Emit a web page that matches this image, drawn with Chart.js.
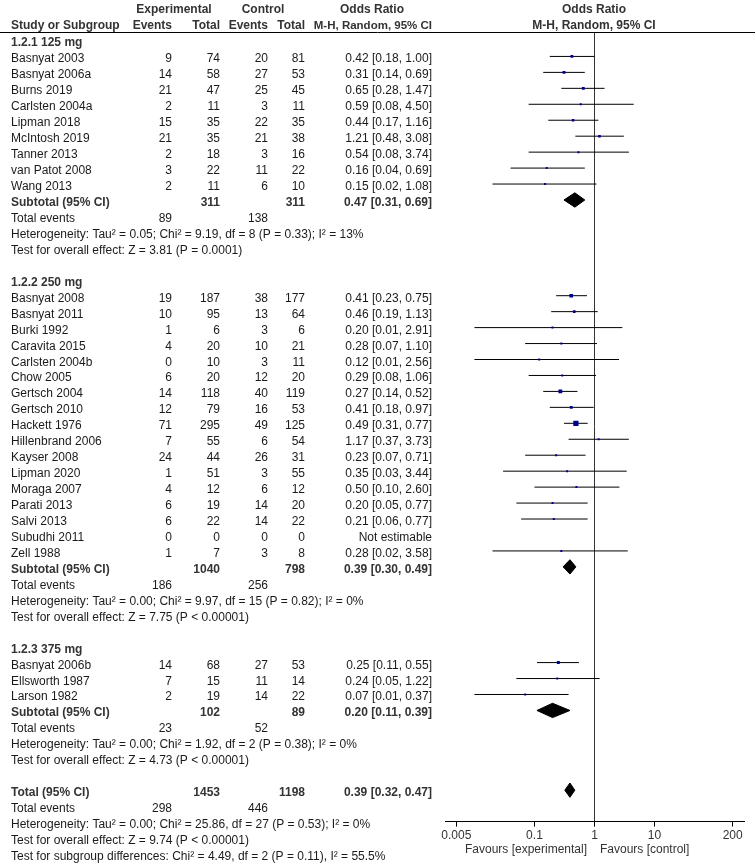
<!DOCTYPE html>
<html>
<head>
<meta charset="utf-8">
<script src="https://cdn.jsdelivr.net/npm/chart.js@4/dist/chart.umd.min.js"></script>
<style>
  body { margin: 0; background: #ffffff; }
  #wrap { width: 755px; height: 864px; }
</style>
</head>
<body>
<div id="wrap"><canvas id="forest" width="755" height="864"></canvas></div>
<script>
// ---- data ----
const studies = ['Basnyat 2003', 'Basnyat 2006a', 'Burns 2019', 'Carlsten 2004a', 'Lipman 2018', 'McIntosh 2019', 'Tanner 2013', 'van Patot 2008', 'Wang 2013',
    'Basnyat 2008', 'Basnyat 2011', 'Burki 1992', 'Caravita 2015', 'Carlsten 2004b', 'Chow 2005', 'Gertsch 2004', 'Gertsch 2010', 'Hackett 1976', 'Hillenbrand 2006',
    'Kayser 2008', 'Lipman 2020', 'Moraga 2007', 'Parati 2013', 'Salvi 2013', 'Subudhi 2011', 'Zell 1988',
    'Basnyat 2006b', 'Ellsworth 1987', 'Larson 1982'];
const studyGroup = [0, 0, 0, 0, 0, 0, 0, 0, 0,
    1, 1, 1, 1, 1, 1, 1, 1, 1, 1, 1, 1, 1, 1, 1, 1, 1,
    2, 2, 2];
const expEvents  = [9, 14, 21, 2, 15, 21, 2, 3, 2,   19, 10, 1, 4, 0, 6, 14, 12, 71, 7, 24, 1, 4, 6, 6, 0, 1,   14, 7, 2];
const expTotal   = [74, 58, 47, 11, 35, 35, 18, 22, 11,   187, 95, 6, 20, 10, 20, 118, 79, 295, 55, 44, 51, 12, 19, 22, 0, 7,   68, 15, 19];
const ctrlEvents = [20, 27, 25, 3, 22, 21, 3, 11, 6,   38, 13, 3, 10, 3, 12, 40, 16, 49, 6, 26, 3, 6, 14, 14, 0, 3,   27, 11, 14];
const ctrlTotal  = [81, 53, 45, 11, 35, 38, 16, 22, 10,   177, 64, 6, 21, 11, 20, 119, 53, 125, 54, 31, 55, 12, 20, 22, 0, 8,   53, 14, 22];
const oddsRatio  = [0.42, 0.31, 0.65, 0.59, 0.44, 1.21, 0.54, 0.16, 0.15,
    0.41, 0.46, 0.20, 0.28, 0.12, 0.29, 0.27, 0.41, 0.49, 1.17, 0.23, 0.35, 0.50, 0.20, 0.21, null, 0.28,
    0.25, 0.24, 0.07];
const ciLower = [0.18, 0.14, 0.28, 0.08, 0.17, 0.48, 0.08, 0.04, 0.02,
    0.23, 0.19, 0.01, 0.07, 0.01, 0.08, 0.14, 0.18, 0.31, 0.37, 0.07, 0.03, 0.10, 0.05, 0.06, null, 0.02,
    0.11, 0.05, 0.01];
const ciUpper = [1.00, 0.69, 1.47, 4.50, 1.16, 3.08, 3.74, 0.69, 1.08,
    0.75, 1.13, 2.91, 1.10, 2.56, 1.06, 0.52, 0.97, 0.77, 3.73, 0.71, 3.44, 2.60, 0.77, 0.77, null, 3.58,
    0.55, 1.22, 0.37];
// estimated study weights (%), they set the square sizes
const weights = [5.0, 5.7, 5.3, 0.9, 4.0, 4.2, 1.0, 1.8, 0.9,
    8.5, 4.6, 0.5, 1.9, 0.5, 2.2, 9.5, 5.1, 17.5, 2.7, 2.7, 0.6, 1.4, 1.9, 2.2, 0, 0.5,
    5.6, 1.4, 1.1];

const subgroupNames  = ['1.2.1 125 mg', '1.2.2 250 mg', '1.2.3 375 mg'];
const subExpEvents   = [89, 186, 23];
const subCtrlEvents  = [138, 256, 52];
const subExpTotal    = [311, 1040, 102];
const subCtrlTotal   = [311, 798, 89];
const subOR   = [0.47, 0.39, 0.20];
const subLow  = [0.31, 0.30, 0.11];
const subHigh = [0.69, 0.49, 0.39];
const subHeterogeneity = [
    'Heterogeneity: Tau\u00B2 = 0.05; Chi\u00B2 = 9.19, df = 8 (P = 0.33); I\u00B2 = 13%',
    'Heterogeneity: Tau\u00B2 = 0.00; Chi\u00B2 = 9.97, df = 15 (P = 0.82); I\u00B2 = 0%',
    'Heterogeneity: Tau\u00B2 = 0.00; Chi\u00B2 = 1.92, df = 2 (P = 0.38); I\u00B2 = 0%'
];
const subOverall = [
    'Test for overall effect: Z = 3.81 (P = 0.0001)',
    'Test for overall effect: Z = 7.75 (P < 0.00001)',
    'Test for overall effect: Z = 4.73 (P < 0.00001)'
];

const totalExpEvents = 298, totalCtrlEvents = 446;
const totalExpN = 1453, totalCtrlN = 1198;
const totalOR = [0.39, 0.32, 0.47];
const totalNotes = [
    'Heterogeneity: Tau\u00B2 = 0.00; Chi\u00B2 = 25.86, df = 27 (P = 0.53); I\u00B2 = 0%',
    'Test for overall effect: Z = 9.74 (P < 0.00001)',
    'Test for subgroup differences: Chi\u00B2 = 4.49, df = 2 (P = 0.11), I\u00B2 = 55.5%'
];
const xTicks = [0.005, 0.1, 1, 10, 200];

// ---- build the row layout ----
const fmtCI = (m, l, h) => m.toFixed(2) + ' [' + l.toFixed(2) + ', ' + h.toFixed(2) + ']';
const rows = [];       // text rows
const studyRow = [];   // row index of each study
const diamonds = [];   // {row, est, lo, hi}
let r = 0;
subgroupNames.forEach((name, g) => {
    rows.push({ row: r++, bold: true, name: name });
    studies.forEach((s, i) => {
        if (studyGroup[i] !== g) return;
        studyRow[i] = r;
        rows.push({
            row: r++, name: s,
            ee: expEvents[i], et: expTotal[i], ce: ctrlEvents[i], ct: ctrlTotal[i],
            or: oddsRatio[i] == null ? 'Not estimable' : fmtCI(oddsRatio[i], ciLower[i], ciUpper[i])
        });
    });
    diamonds.push({ row: r, est: subOR[g], lo: subLow[g], hi: subHigh[g] });
    rows.push({ row: r++, bold: true, name: 'Subtotal (95% CI)', et: subExpTotal[g], ct: subCtrlTotal[g], or: fmtCI(subOR[g], subLow[g], subHigh[g]) });
    rows.push({ row: r++, name: 'Total events', ee: subExpEvents[g], ce: subCtrlEvents[g] });
    rows.push({ row: r++, name: subHeterogeneity[g] });
    rows.push({ row: r++, name: subOverall[g] });
    r++; // blank line
});
diamonds.push({ row: r, est: totalOR[0], lo: totalOR[1], hi: totalOR[2] });
rows.push({ row: r++, bold: true, name: 'Total (95% CI)', et: totalExpN, ct: totalCtrlN, or: fmtCI(totalOR[0], totalOR[1], totalOR[2]) });
rows.push({ row: r++, name: 'Total events', ee: totalExpEvents, ce: totalCtrlEvents });
totalNotes.forEach(t => rows.push({ row: r++, name: t }));

// ---- datasets ----
const datasets = [];
datasets.push({
    label: 'Study estimate',
    data: studies.map((s, i) => oddsRatio[i] == null ? null : { x: oddsRatio[i], y: studyRow[i] }).filter(p => p),
    pointStyle: 'rect',
    // rect side = radius * sqrt(2)
    pointRadius: weights.filter((w, i) => oddsRatio[i] != null).map(w => Math.max(2, 1.25 * Math.sqrt(w)) / Math.SQRT2),
    backgroundColor: '#00008f',
    borderWidth: 0,
    order: 0
});
studies.forEach((s, i) => {
    if (oddsRatio[i] == null) return;
    datasets.push({
        label: s,
        data: [{ x: ciLower[i], y: studyRow[i] }, { x: ciUpper[i], y: studyRow[i] }],
        showLine: true,
        borderColor: '#000000',
        borderWidth: 1,
        pointRadius: 0,
        order: 1
    });
});
diamonds.forEach(d => {
    const h = 0.45;
    datasets.push({
        label: 'diamond',
        data: [{ x: d.lo, y: d.row }, { x: d.est, y: d.row - h }, { x: d.hi, y: d.row }, { x: d.est, y: d.row + h }, { x: d.lo, y: d.row }],
        showLine: true,
        fill: 'shape',
        backgroundColor: '#000000',
        borderColor: '#000000',
        borderWidth: 1,
        pointRadius: 0,
        tension: 0,
        order: 0
    });
});

const FONT = '"Liberation Sans", Arial, sans-serif';

// table text, header line and "Favours" labels
const forestText = {
    id: 'forestText',
    afterDraw(chart) {
        const ctx = chart.ctx;
        const y = chart.scales.y;
        ctx.save();
        ctx.textBaseline = 'alphabetic';

        // headers
        ctx.fillStyle = '#333333';
        ctx.font = 'bold 12px ' + FONT;
        ctx.textAlign = 'center';
        ctx.fillText('Experimental', 174, 13);
        ctx.fillText('Control', 263, 13);
        ctx.fillText('Odds Ratio', 372, 13);
        ctx.fillText('Odds Ratio', 594, 13);
        ctx.fillText('M-H, Random, 95% CI', 594, 29);
        ctx.textAlign = 'left';
        ctx.fillText('Study or Subgroup', 11, 29);
        ctx.textAlign = 'right';
        ctx.fillText('Events', 172, 29);
        ctx.fillText('Total', 220, 29);
        ctx.fillText('Events', 268, 29);
        ctx.fillText('Total', 305, 29);
        ctx.font = 'bold 11.5px ' + FONT;
        ctx.fillText('M-H, Random, 95% CI', 432, 29);

        ctx.strokeStyle = '#000000';
        ctx.lineWidth = 1;
        ctx.beginPath();
        ctx.moveTo(0, 32.5);
        ctx.lineTo(755, 32.5);
        ctx.stroke();

        rows.forEach(row => {
            const py = Math.round(y.getPixelForValue(row.row)) + 6;
            ctx.font = (row.bold ? 'bold ' : '') + '12px ' + FONT;
            ctx.fillStyle = row.bold ? '#333333' : '#1a1a1a';
            ctx.textAlign = 'left';
            ctx.fillText(row.name, 11, py);
            ctx.textAlign = 'right';
            if (row.ee != null) ctx.fillText(String(row.ee), 172, py);
            if (row.et != null) ctx.fillText(String(row.et), 220, py);
            if (row.ce != null) ctx.fillText(String(row.ce), 268, py);
            if (row.ct != null) ctx.fillText(String(row.ct), 305, py);
            if (row.or != null) ctx.fillText(row.or, 432, py);
        });

        ctx.font = '12px ' + FONT;
        ctx.fillStyle = '#333333';
        ctx.textAlign = 'right';
        ctx.fillText('Favours [experimental]', 587, 853);
        ctx.textAlign = 'left';
        ctx.fillText('Favours [control]', 600, 853);
        ctx.restore();
    }
};

new Chart(document.getElementById('forest'), {
    type: 'scatter',
    data: { datasets: datasets },
    options: {
        responsive: false,
        animation: false,
        events: [],
        layout: { padding: { left: 445, right: 11, top: 32, bottom: 19 } },
        plugins: {
            legend: { display: false },
            tooltip: { enabled: false }
        },
        scales: {
            x: {
                type: 'logarithmic',
                min: Math.pow(10, -2.49),
                max: Math.pow(10, 2.49),
                afterBuildTicks: scale => { scale.ticks = xTicks.map(v => ({ value: v })); },
                ticks: {
                    autoSkip: false,
                    maxRotation: 0,
                    padding: 2,
                    color: '#333333',
                    font: { family: FONT, size: 12 },
                    callback: v => String(v)
                },
                grid: {
                    color: c => (c.tick && c.tick.value === 1) ? '#333333' : 'rgba(0,0,0,0)',
                    tickColor: '#000000',
                    tickLength: 5,
                    lineWidth: 1
                },
                border: { color: '#000000', width: 1 }
            },
            y: {
                type: 'linear',
                reverse: true,
                display: false,
                min: -0.53125,
                max: 48.96875
            }
        }
    },
    plugins: [forestText]
});
</script>
</body>
</html>
